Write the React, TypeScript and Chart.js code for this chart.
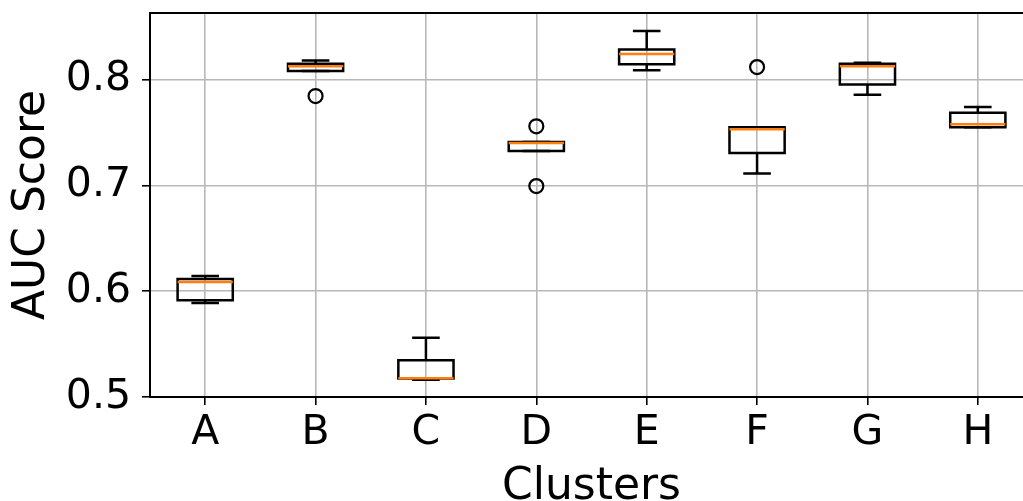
import React, { useEffect, useRef } from "react";
import { Chart, registerables } from "chart.js";

Chart.register(...registerables);

const categories = ["A", "B", "C", "D", "E", "F", "G", "H"];
const lowerWhisker = [0.5888, 0.8081, 0.5164, 0.7325, 0.8088, 0.7112, 0.7858, 0.7549];
const q1 = [0.5914, 0.8081, 0.5175, 0.7325, 0.8145, 0.7306, 0.7953, 0.7549];
const medians = [0.6087, 0.8126, 0.5178, 0.7400, 0.8242, 0.7530, 0.8126, 0.7578];
const q3 = [0.6115, 0.8151, 0.5347, 0.7410, 0.8286, 0.7549, 0.8151, 0.7688];
const upperWhisker = [0.6144, 0.8180, 0.5561, 0.7410, 0.8460, 0.7549, 0.8160, 0.7741];
const outlierCluster = [2, 4, 4, 6];
const outlierValues = [0.7845, 0.7559, 0.6994, 0.8119];
const yTicks = [0.5, 0.6, 0.7, 0.8];

const FONT = "'DejaVu Sans', sans-serif";

const boxPlugin = {
  id: "boxes",
  beforeDatasetsDraw(chart: any) {
    const { ctx, scales } = chart;
    const x = scales.x;
    const y = scales.y;
    ctx.save();
    ctx.lineCap = "butt";
    categories.forEach((_, i) => {
      const xc = x.getPixelForValue(i + 1);
      const halfBox = x.getPixelForValue(1.25) - x.getPixelForValue(1);
      const halfCap = x.getPixelForValue(1.125) - x.getPixelForValue(1);
      const yq1 = y.getPixelForValue(q1[i]);
      const yq3 = y.getPixelForValue(q3[i]);
      const ylo = y.getPixelForValue(lowerWhisker[i]);
      const yhi = y.getPixelForValue(upperWhisker[i]);
      const ymed = y.getPixelForValue(medians[i]);
      ctx.strokeStyle = "#000";
      ctx.lineWidth = 2.5;
      // whiskers
      ctx.beginPath();
      ctx.moveTo(xc, yq1);
      ctx.lineTo(xc, ylo);
      ctx.moveTo(xc, yq3);
      ctx.lineTo(xc, yhi);
      // caps
      ctx.moveTo(xc - halfCap, ylo);
      ctx.lineTo(xc + halfCap, ylo);
      ctx.moveTo(xc - halfCap, yhi);
      ctx.lineTo(xc + halfCap, yhi);
      ctx.stroke();
      // box
      ctx.beginPath();
      ctx.rect(xc - halfBox, yq3, halfBox * 2, yq1 - yq3);
      ctx.stroke();
      // median
      ctx.strokeStyle = "#ff7f0e";
      ctx.beginPath();
      ctx.moveTo(xc - halfBox, ymed);
      ctx.lineTo(xc + halfBox, ymed);
      ctx.stroke();
    });
    ctx.restore();
  },
  afterDraw(chart: any) {
    const { ctx, chartArea } = chart;
    ctx.save();
    ctx.strokeStyle = "#000";
    ctx.lineWidth = 2;
    ctx.beginPath();
    ctx.moveTo(chartArea.left - 1, chartArea.top);
    ctx.lineTo(chartArea.right + 1, chartArea.top);
    ctx.moveTo(chartArea.right, chartArea.top);
    ctx.lineTo(chartArea.right, chartArea.bottom);
    ctx.stroke();
    ctx.restore();
  },
};

export default function App() {
  const ref = useRef<HTMLCanvasElement>(null);
  useEffect(() => {
    if (!ref.current) return;
    const chart = new Chart(ref.current, {
      type: "scatter",
      data: {
        datasets: [
          {
            label: "outliers",
            data: outlierCluster.map((c, i) => ({ x: c, y: outlierValues[i] })),
            pointStyle: "circle",
            pointRadius: 7,
            pointBorderWidth: 2.2,
            pointBorderColor: "#000",
            pointBackgroundColor: "rgba(0,0,0,0)",
          },
        ],
      },
      options: {
        responsive: false,
        animation: false,
        layout: { padding: { top: 13, right: 12, left: 0, bottom: 0 } },
        plugins: { legend: { display: false }, tooltip: { enabled: false } },
        scales: {
          x: {
            type: "linear",
            min: 0.5,
            max: 8.5,
            afterBuildTicks: (s: any) => {
              s.ticks = categories.map((_, i) => ({ value: i + 1 }));
            },
            afterFit: (s: any) => {
              s.height = 104;
              s.paddingLeft = 0;
              s.paddingRight = 0;
            },
            ticks: {
              callback: (v: any) => categories[Math.round(v) - 1] ?? "",
              font: { family: FONT, size: 41 },
              color: "#000",
              padding: 4,
              maxRotation: 0,
              autoSkip: false,
            },
            grid: {
              color: "#b8b8b8",
              lineWidth: 1.6,
              tickColor: "#000",
              tickLength: 8,
              tickWidth: 1.6,
            },
            border: { color: "#000", width: 2 },
            title: {
              display: true,
              text: "Clusters",
              font: { family: FONT, size: 44, lineHeight: 1 },
              color: "#000",
              padding: { top: 0, bottom: -9 },
            },
          },
          y: {
            type: "linear",
            min: 0.5,
            max: 0.863,
            afterBuildTicks: (s: any) => {
              s.ticks = yTicks.map((v) => ({ value: v }));
            },
            afterFit: (s: any) => {
              s.width = 150;
              s.paddingTop = 0;
              s.paddingBottom = 0;
            },
            ticks: {
              callback: (v: any) => Number(v).toFixed(1),
              font: { family: FONT, size: 41 },
              color: "#000",
              padding: 11,
            },
            grid: {
              color: "#b8b8b8",
              lineWidth: 1.6,
              tickColor: "#000",
              tickLength: 8,
              tickWidth: 1.6,
            },
            border: { color: "#000", width: 2 },
            title: {
              display: true,
              text: "AUC Score",
              font: { family: FONT, size: 44, lineHeight: 1 },
              color: "#000",
              padding: { top: 11, bottom: 0 },
            },
          },
        },
      },
      plugins: [boxPlugin],
    });
    return () => chart.destroy();
  }, []);
  return (
    <div
      style={{
        position: "fixed",
        left: 0,
        top: 0,
        width: 1023,
        height: 501,
        overflow: "hidden",
        background: "#fff",
      }}
    >
      <canvas ref={ref} width={1045} height={501} style={{ display: "block" }} />
    </div>
  );
}
